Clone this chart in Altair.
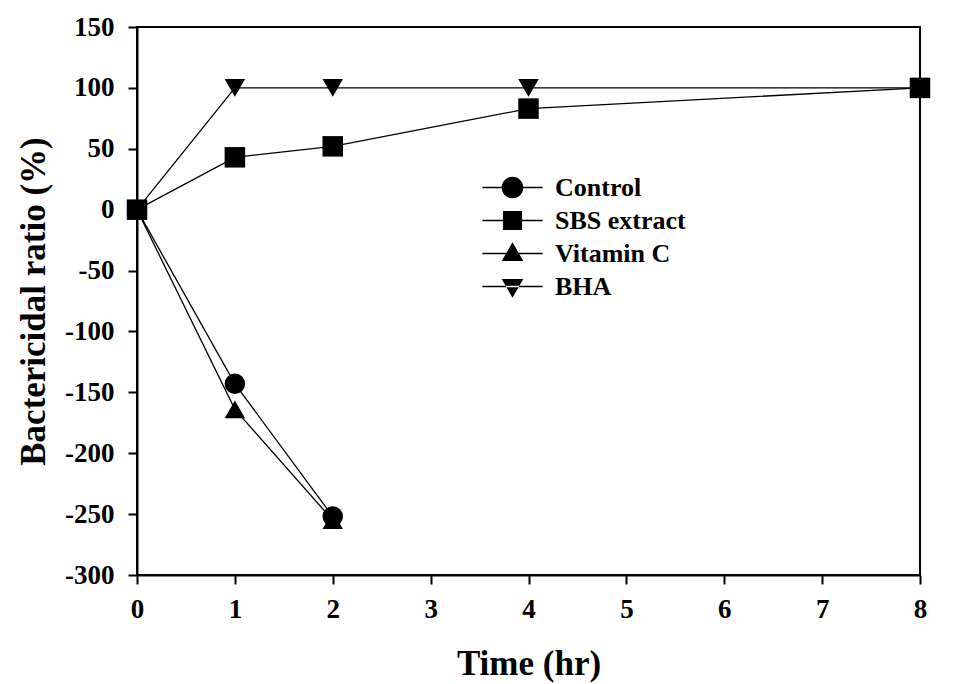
import altair as alt
import pandas as pd

series = ["Control", "SBS extract", "Vitamin C", "BHA"]
control_t = [0, 1, 2]
control_v = [0, -143, -252]
sbs_t = [0, 1, 2, 4, 8]
sbs_v = [0, 43, 52, 83, 100]
vitc_t = [0, 1, 2]
vitc_v = [0, -164, -255]
bha_t = [0, 1, 2, 4, 8]
bha_v = [0, 100, 100, 100, 100]

rows = []
for name, ts, vs in [("Control", control_t, control_v), ("SBS extract", sbs_t, sbs_v),
                     ("Vitamin C", vitc_t, vitc_v), ("BHA", bha_t, bha_v)]:
    for t, v in zip(ts, vs):
        rows.append({"series": name, "time": t, "ratio": v})
df = pd.DataFrame(rows)

FONT = "Liberation Serif"
TICK_FS = 27

x = alt.X("time:Q", title="Time (hr)",
          scale=alt.Scale(domain=[0, 8], nice=False, zero=False),
          axis=alt.Axis(values=[0, 1, 2, 3, 4, 5, 6, 7, 8], labelExpr="'' + datum.value",
                        labelPadding=12,
                        titleY=88, titleBaseline="middle"))
y = alt.Y("ratio:Q", title="Bactericidal ratio (%)",
          scale=alt.Scale(domain=[-300, 150], nice=False),
          axis=alt.Axis(values=list(range(-300, 151, 50)), labelExpr="'' + datum.value",
                        labelPadding=14,
                        titleX=-104, titleY=274, titleAngle=-90,
                        titleAlign="center", titleBaseline="middle"))

lines = alt.Chart(df).mark_line(color="black", strokeWidth=1.3).encode(
    x=x, y=y, detail="series:N")

point_shapes = ["circle", "square", "triangle-up", "triangle-down"]
points = alt.Chart(df).mark_point(filled=True, color="black", opacity=1, size=420).encode(
    x=x, y=y,
    shape=alt.Shape("series:N", scale=alt.Scale(domain=series, range=point_shapes), legend=None))

BAR = "M-1.67,-0.04H1.67V0.04H-1.67Z"
legend_paths = [
    BAR + "M0.6,0A0.6,0.6 0 1,1 -0.6,0A0.6,0.6 0 1,1 0.6,0Z",
    BAR + "M-0.53,-0.53H0.53V0.53H-0.53Z",
    BAR + "M0,-0.62L0.6,0.42H-0.6Z",
    BAR + "M0,0.62L0.6,-0.42H-0.6Z",
]
legend_layer = alt.Chart(df).mark_point(filled=True, color="black", opacity=0, size=1).encode(
    x=x, y=y,
    shape=alt.Shape("series:N", scale=alt.Scale(domain=series, range=legend_paths),
                    legend=alt.Legend(title=None, orient="none", legendX=357, legendY=142,
                                      symbolSize=1300, symbolFillColor="black",
                                      symbolStrokeWidth=0,
                                      symbolOpacity=1, labelFont=FONT, labelFontSize=26,
                                      labelFontWeight="bold", labelColor="black",
                                      labelOffset=24, rowPadding=1)))

chart = alt.layer(lines, points, legend_layer).resolve_scale(shape="independent").properties(
    width=783, height=548,
    autosize=alt.AutoSizeParams(type="none"),
    padding={"left": 129, "top": 19, "right": 30, "bottom": 108},
).configure_view(stroke="black", strokeWidth=2).configure_axis(
    grid=False, domainColor="black", domainWidth=2, tickColor="black", tickWidth=2,
    tickSize=9, labelColor="black", labelFont=FONT, labelFontSize=TICK_FS,
    labelFontWeight="bold", titleFont=FONT, titleFontSize=35,
    titleFontWeight="bold", titleColor="black", labelFlush=False,
)

chart.save("out.html", embed_options={"renderer": "svg", "actions": False})
